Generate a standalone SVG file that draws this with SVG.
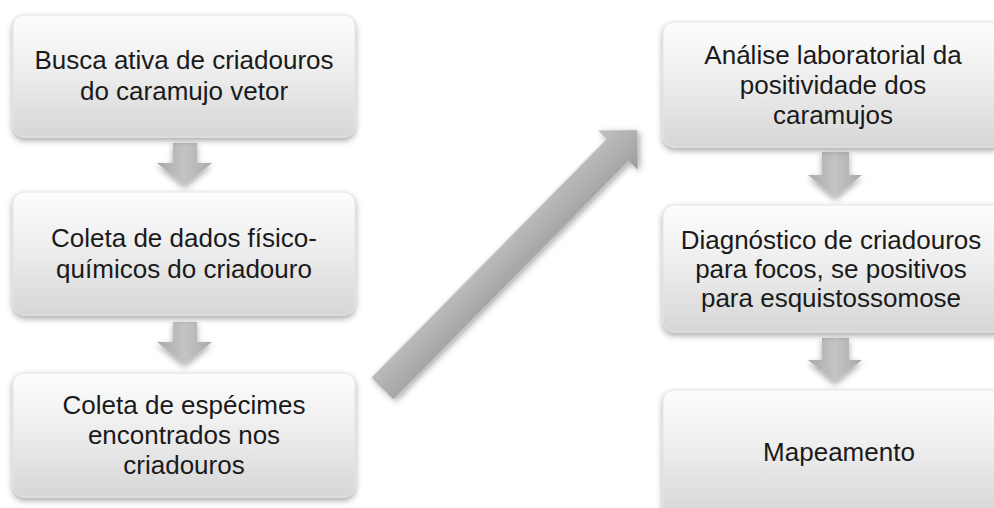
<svg xmlns="http://www.w3.org/2000/svg" width="994" height="508" viewBox="0 0 994 508">
<defs>
<linearGradient id="boxg" x1="0" y1="0" x2="0" y2="1">
<stop offset="0" stop-color="#fdfdfd"/>
<stop offset="0.5" stop-color="#ececec"/>
<stop offset="1" stop-color="#d6d6d6"/>
</linearGradient>
<linearGradient id="arrg" x1="0" y1="0" x2="1" y2="0">
<stop offset="0" stop-color="#a9a9a9"/>
<stop offset="0.5" stop-color="#c4c4c4"/>
<stop offset="1" stop-color="#a9a9a9"/>
</linearGradient>
<linearGradient id="diag" x1="0" y1="0" x2="0" y2="1">
<stop offset="0" stop-color="#c2c2c2"/>
<stop offset="0.5" stop-color="#b0b0b0"/>
<stop offset="1" stop-color="#9c9c9c"/>
</linearGradient>
<filter id="sh" x="-10%" y="-10%" width="120%" height="130%">
<feDropShadow dx="0" dy="3" stdDeviation="3" flood-color="#000" flood-opacity="0.35"/>
</filter>
</defs>
<style>
.box{fill:url(#boxg);stroke:#e2e2e2;stroke-width:1;filter:url(#sh)}
.t{font-family:"Liberation Sans",Arial,sans-serif;font-size:26px;fill:#1a1a1a;text-anchor:middle}
.arr{fill:url(#arrg);filter:url(#sh)}
</style>
<rect width="994" height="508" fill="#ffffff"/>

<g id="connectors">
<polygon class="arr" points="173,143 197,143 197,163 212,163 184.5,185 157,163 173,163"/>
<polygon class="arr" points="173,322 197,322 197,342 212,342 184.5,364 157,342 173,342"/>
<polygon class="arr" points="822,152 849,152 849,175 862,175 835,197 808,175 822,175"/>
<polygon class="arr" points="822,338 849,338 849,360 862,360 835,382 808,360 822,360"/>
<g transform="translate(382.5,388.5) rotate(-45.4)">
<polygon points="0,-15.5 335,-15.5 335,-28 363,0 335,28 335,15.5 0,15.5" fill="url(#diag)" filter="url(#sh)"/>
</g>
</g>

<g id="n1">
<rect class="box" x="13" y="15" width="342" height="122" rx="11"/>
<text class="t" x="184" y="69">Busca ativa de criadouros</text>
<text class="t" x="184" y="100">do caramujo vetor</text>
</g>
<g id="n2">
<rect class="box" x="13" y="192" width="342" height="123" rx="11"/>
<text class="t" x="184" y="247">Coleta de dados físico-</text>
<text class="t" x="184" y="278">químicos do criadouro</text>
</g>
<g id="n3">
<rect class="box" x="13" y="373" width="342" height="124" rx="11"/>
<text class="t" x="184" y="414">Coleta de espécimes</text>
<text class="t" x="184" y="444">encontrados nos</text>
<text class="t" x="184" y="474">criadouros</text>
</g>
<g id="n4">
<rect class="box" x="663" y="22" width="344" height="125" rx="11"/>
<text class="t" x="833" y="64">Análise laboratorial da</text>
<text class="t" x="833" y="94">positividade dos</text>
<text class="t" x="833" y="124">caramujos</text>
</g>
<g id="n5">
<rect class="box" x="663" y="205" width="344" height="127" rx="11"/>
<text class="t" x="831" y="249">Diagnóstico de criadouros</text>
<text class="t" x="831" y="278">para focos, se positivos</text>
<text class="t" x="831" y="307">para esquistossomose</text>
</g>
<g id="n6">
<rect class="box" x="663" y="390" width="344" height="126" rx="11"/>
<text class="t" x="839" y="461">Mapeamento</text>
</g>
</svg>
